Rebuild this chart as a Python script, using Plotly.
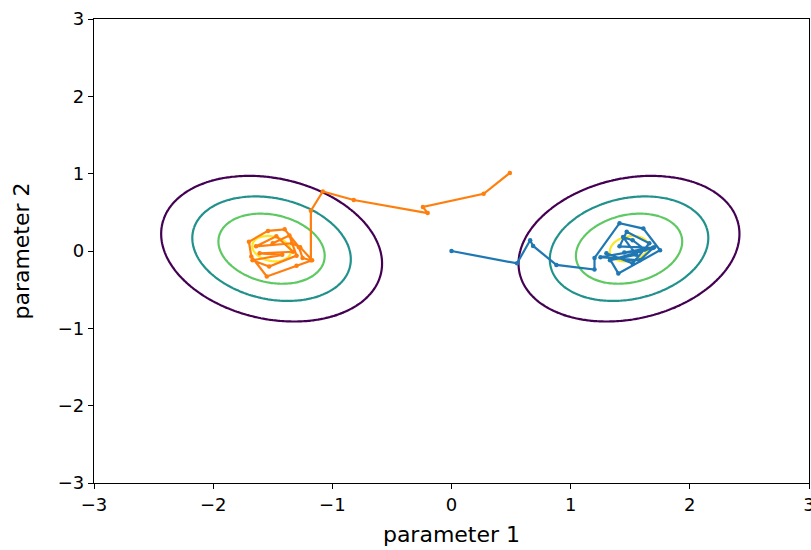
import numpy as np
import plotly.graph_objects as go

# Gaussian mixture components (means, covariances) read from the ellipses
means = [(-1.51, 0.03), (1.49, 0.03)]
covs = [[[0.30, -0.062], [-0.062, 0.31]],
        [[0.30, 0.062], [0.062, 0.31]]]
weights = [0.5, 0.5]
level_fracs = [1, 2, 3, 4]          # contour levels as multiples of base level
level_colors = ["#440154", "#21918c", "#5ec962", "#fde725"]

# Trajectories
orange_x = [0.49, 0.27, -0.24, -0.20, -0.82, -1.08, -1.18, -1.18,
            -1.25, -1.28, -1.40, -1.54, -1.70, -1.68, -1.55, -1.30, -1.17,
            -1.27, -1.34, -1.64, -1.47, -1.33, -1.61, -1.42, -1.67, -1.53,
            -1.30, -1.36, -1.50]
orange_y = [1.01, 0.74, 0.57, 0.49, 0.66, 0.77, 0.52, -0.12,
            -0.09, 0.05, 0.28, 0.26, 0.12, -0.07, -0.33, -0.19, -0.12,
            0.05, 0.10, 0.06, 0.19, -0.01, -0.03, -0.05, -0.12, -0.20,
            -0.06, 0.20, 0.10]
blue_x = [0.0, 0.55, 0.66, 0.685, 0.88, 1.20,
          1.20, 1.41, 1.61, 1.75, 1.40, 1.30, 1.52, 1.66, 1.47, 1.41,
          1.69, 1.33, 1.55, 1.44, 1.52, 1.62, 1.25, 1.58, 1.70, 1.45]
blue_y = [0.0, -0.16, 0.14, 0.065, -0.18, -0.24,
          -0.09, 0.36, 0.29, 0.01, -0.29, -0.03, -0.16, 0.10, 0.25, 0.06,
          0.04, -0.12, -0.05, 0.18, 0.14, 0.02, -0.08, -0.12, 0.05, -0.02]

tick_vals = [-3, -2, -1, 0, 1, 2, 3]

# density grid
gx = np.linspace(-3, 3, 301)
gy = np.linspace(-3, 3, 301)
X, Y = np.meshgrid(gx, gy)
Z = np.zeros_like(X)
peaks = []
for w, m, c in zip(weights, means, covs):
    c = np.array(c)
    inv = np.linalg.inv(c)
    det = np.linalg.det(c)
    dx = X - m[0]
    dy = Y - m[1]
    q = inv[0, 0] * dx * dx + 2 * inv[0, 1] * dx * dy + inv[1, 1] * dy * dy
    norm = w / (2 * np.pi * np.sqrt(det))
    Z += norm * np.exp(-0.5 * q)
    peaks.append(norm)
base = min(peaks) * np.exp(-1.43)
levels = [f * base for f in level_fracs]

fig = go.Figure()
for lv, col in zip(levels, level_colors):
    fig.add_trace(go.Contour(
        x=gx, y=gy, z=Z,
        contours=dict(start=lv, end=lv, size=1, coloring="lines"),
        colorscale=[[0, col], [1, col]],
        line=dict(width=2.2),
        showscale=False, hoverinfo="skip"))

fig.add_trace(go.Scatter(x=blue_x, y=blue_y, mode="lines+markers",
                         line=dict(color="#1f77b4", width=2.2),
                         marker=dict(size=4.5, color="#1f77b4"),
                         showlegend=False))
fig.add_trace(go.Scatter(x=orange_x, y=orange_y, mode="lines+markers",
                         line=dict(color="#ff7f0e", width=2.2),
                         marker=dict(size=4.5, color="#ff7f0e"),
                         showlegend=False))

axis_common = dict(range=[-3, 3], tickvals=tick_vals, showgrid=False,
                   zeroline=False, showline=True, linecolor="black",
                   linewidth=1.2, mirror=True, ticks="outside", ticklen=5,
                   tickcolor="black", tickfont=dict(size=18, color="black"),
                   ticklabeloverflow="allow", automargin=False)
fig.update_layout(
    width=811, height=550,
    margin=dict(l=94, r=2, t=19, b=67),
    paper_bgcolor="white", plot_bgcolor="white",
    font=dict(family="DejaVu Sans", size=18, color="black"),
    showlegend=False,
    xaxis=dict(title=dict(text="parameter 1", standoff=12), **axis_common),
    yaxis=dict(title=dict(text="parameter 2", standoff=22), **axis_common),
)
fig.write_html("out.html")
